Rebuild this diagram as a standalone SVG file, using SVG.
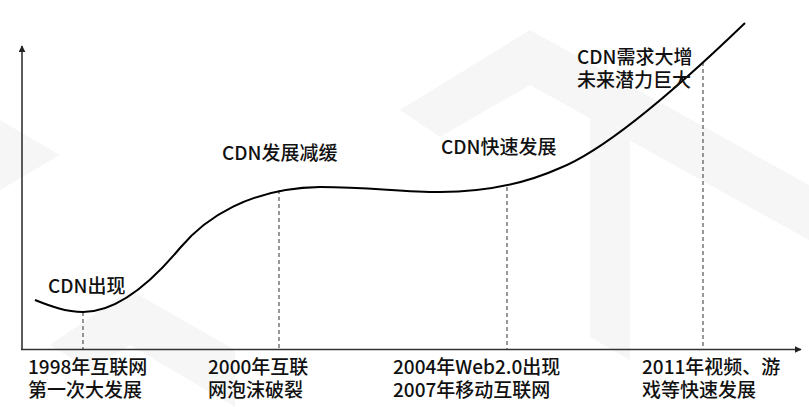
<svg xmlns="http://www.w3.org/2000/svg" width="809" height="407" viewBox="0 0 809 407">
<defs>
<style>
.lbl{font-family:"Noto Sans CJK SC","Noto Sans",sans-serif;font-size:19px;font-weight:500;fill:#111}
.axis{stroke:#333;stroke-width:1.6;fill:none}
.dash{stroke:#333;stroke-width:1;stroke-dasharray:4 3;fill:none}
.curve{stroke:#000;stroke-width:2;fill:none}
.wm{fill:#f6f6f6}
</style>
<marker id="arr" viewBox="0 0 10 10" refX="9" refY="5" markerWidth="7" markerHeight="7" markerUnits="userSpaceOnUse" orient="auto">
<path d="M0,0 L10,5 L0,10 Z" fill="#222"/>
</marker>
</defs>
<rect width="809" height="407" fill="#fff"/>
<g id="watermark">
<polygon class="wm" points="400,110 530,30 809,185 809,240 530,85 440,137"/>
<polygon class="wm" points="590,95 630,118 630,360 590,337"/>
<polygon class="wm" points="50,345 130,290 235,350 235,407 130,345 90,370"/>
<polygon class="wm" points="0,120 60,155 0,190"/>
</g>
<g id="axes">
<line class="axis" x1="22" y1="350" x2="22" y2="46" marker-end="url(#arr)"/>
<line class="axis" x1="21" y1="349.5" x2="801" y2="349.5" marker-end="url(#arr)"/>
</g>
<g id="connectors">
<line class="dash" x1="83" y1="312" x2="83" y2="349"/>
<line class="dash" x1="279" y1="190" x2="279" y2="349"/>
<line class="dash" x1="507" y1="187" x2="507" y2="349"/>
<line class="dash" x1="703" y1="62" x2="703" y2="349"/>
</g>
<g id="curve">
<path class="curve" d="M35,300 C50,306 66,312 83,312 C120,312 155,278 180,248 C205,218 250,188 320,187 C370,187 400,192 440,192 C480,192 520,186 560,168 C610,148 690,76 745,23"/>
</g>
<g id="stage-1"><text class="lbl" x="48" y="293">CDN出现</text></g>
<g id="stage-2"><text class="lbl" x="222" y="160">CDN发展减缓</text></g>
<g id="stage-3"><text class="lbl" x="441" y="154">CDN快速发展</text></g>
<g id="stage-4"><text class="lbl" x="577" y="64">CDN需求大增</text><text class="lbl" x="577" y="87">未来潜力巨大</text></g>
<g id="year-1998"><text class="lbl" x="28" y="374">1998年互联网</text><text class="lbl" x="28" y="397">第一次大发展</text></g>
<g id="year-2000"><text class="lbl" x="208" y="374">2000年互联</text><text class="lbl" x="208" y="397">网泡沫破裂</text></g>
<g id="year-2004"><text class="lbl" x="393" y="374">2004年Web2.0出现</text><text class="lbl" x="393" y="397">2007年移动互联网</text></g>
<g id="year-2011"><text class="lbl" x="642" y="374">2011年视频、游</text><text class="lbl" x="642" y="397">戏等快速发展</text></g>
</svg>
